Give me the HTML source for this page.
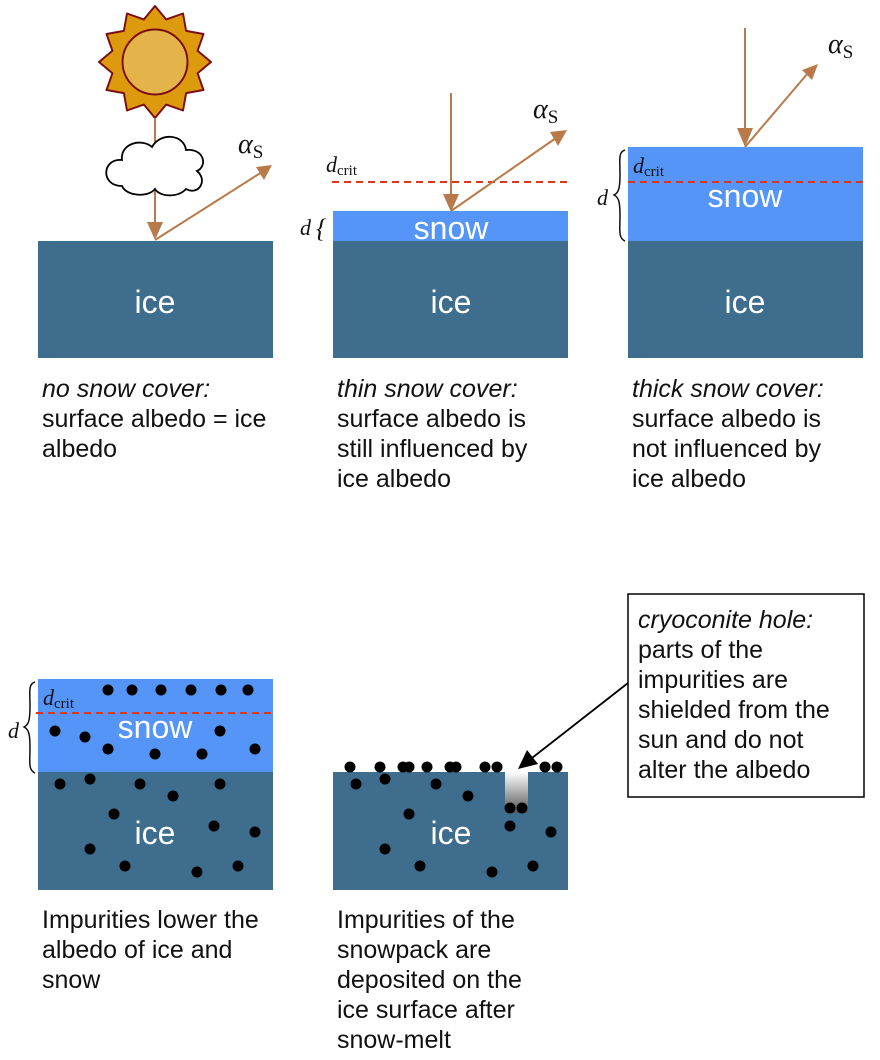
<!DOCTYPE html>
<html><head><meta charset="utf-8"><style>
html,body{margin:0;padding:0;background:#fff;}
svg{display:block;}
.t{font-family:"Liberation Sans",sans-serif;font-size:25px;fill:#111;}
.w{font-family:"Liberation Sans",sans-serif;font-size:32px;fill:#fff;text-anchor:middle;}
.m{font-family:"Liberation Serif",serif;font-style:italic;fill:#111;}
</style></head><body>
<svg width="880" height="1060" viewBox="0 0 880 1060" xmlns="http://www.w3.org/2000/svg">
<defs>
<linearGradient id="hole" x1="0" y1="0" x2="0" y2="1"><stop offset="0" stop-color="#fff"/><stop offset="1" stop-color="#555"/></linearGradient>
</defs>

<g transform="translate(155,62) scale(56)">
<polygon fill="#dc9a0c" stroke="#7a0e14" stroke-width="0.035" stroke-linejoin="round"
points="1,0 0.76,0.2 0.866,0.5 0.556,0.556 0.5,0.866 0.2,0.76 0,1 -0.2,0.76 -0.5,0.866 -0.556,0.556 -0.866,0.5 -0.76,0.2 -1,0 -0.76,-0.2 -0.866,-0.5 -0.556,-0.556 -0.5,-0.866 -0.2,-0.76 0,-1 0.2,-0.76 0.5,-0.866 0.556,-0.556 0.866,-0.5 0.76,-0.2"/>
<circle cx="0" cy="0" r="0.58" fill="#e4b34a" stroke="#7a0e14" stroke-width="0.035"/>
</g>
<line x1="155" y1="118" x2="155" y2="222" stroke="#b87a4a" stroke-width="2"/>
<path d="M122,186 C100,186 102,158 122,160 C120,143 142,138 152,147 C160,132 184,134 186,150 C204,148 208,166 197,171 C208,180 199,196 186,189 C178,198 160,197 155,189 C148,198 126,196 122,186 Z" fill="#fff" stroke="#000" stroke-width="1.8"/>
<polygon points="147,222 163,222 155,240" fill="#b87a4a"/>
<line x1="155" y1="240" x2="262" y2="172" stroke="#b87a4a" stroke-width="2"/>
<polygon points="272,165 256,167 264,180" fill="#b87a4a"/>
<text class="m" x="238" y="153" font-size="28">α<tspan font-style="normal" font-size="19" dy="5">S</tspan></text>
<rect x="38" y="241" width="235" height="117" fill="#3e6d8e"/>
<text class="w" x="155" y="313">ice</text>

<rect x="333" y="211" width="235" height="30" fill="#5595f7"/>
<rect x="333" y="241" width="235" height="117" fill="#3e6d8e"/>
<text class="w" x="451" y="239">snow</text>
<text class="w" x="451" y="313">ice</text>
<line x1="332" y1="182" x2="570" y2="182" stroke="#d9381e" stroke-width="2" stroke-dasharray="7,5"/>
<text class="m" x="326" y="172" font-size="22">d<tspan font-style="normal" font-size="15" dy="3">crit</tspan></text>
<text class="m" x="300" y="235" font-size="22">d</text>
<text class="m" x="316" y="237" font-size="26" font-style="normal">{</text>
<line x1="451" y1="93" x2="451" y2="194" stroke="#b87a4a" stroke-width="2"/>
<polygon points="443,194 459,194 451,212" fill="#b87a4a"/>
<line x1="451" y1="211" x2="556" y2="138" stroke="#b87a4a" stroke-width="2"/>
<polygon points="567,130 550,132 558,146" fill="#b87a4a"/>
<text class="m" x="533" y="118" font-size="28">α<tspan font-style="normal" font-size="19" dy="5">S</tspan></text>

<rect x="628" y="147" width="235" height="94" fill="#5595f7"/>
<rect x="628" y="241" width="235" height="117" fill="#3e6d8e"/>
<text class="w" x="745" y="207">snow</text>
<text class="w" x="745" y="313">ice</text>
<line x1="628" y1="182" x2="865" y2="182" stroke="#d9381e" stroke-width="2" stroke-dasharray="7,5"/>
<text class="m" x="633" y="173" font-size="22">d<tspan font-style="normal" font-size="15" dy="3">crit</tspan></text>
<text class="m" x="597" y="205" font-size="22">d</text>
<path d="M625,150 C618,152 620,160 620,175 C620,190 618,193 614,195 C618,197 620,200 620,215 C620,230 618,238 625,241" fill="none" stroke="#111" stroke-width="1.5"/>
<line x1="745" y1="28" x2="745" y2="128" stroke="#b87a4a" stroke-width="2"/>
<polygon points="737,128 753,128 745,147" fill="#b87a4a"/>
<line x1="745" y1="147" x2="808" y2="73" stroke="#b87a4a" stroke-width="2"/>
<polygon points="818,64 802,70 812,80" fill="#b87a4a"/>
<text class="m" x="828" y="53" font-size="28">α<tspan font-style="normal" font-size="19" dy="5">S</tspan></text>

<text class="t" x="42" y="397"><tspan font-style="italic">no snow cover:</tspan><tspan x="42" dy="30">surface albedo = ice</tspan><tspan x="42" dy="30">albedo</tspan></text>
<text class="t" x="337" y="397"><tspan font-style="italic">thin snow cover:</tspan><tspan x="337" dy="30">surface albedo is</tspan><tspan x="337" dy="30">still influenced by</tspan><tspan x="337" dy="30">ice albedo</tspan></text>
<text class="t" x="632" y="397"><tspan font-style="italic">thick snow cover:</tspan><tspan x="632" dy="30">surface albedo is</tspan><tspan x="632" dy="30">not influenced by</tspan><tspan x="632" dy="30">ice albedo</tspan></text>

<rect x="38" y="679" width="235" height="93" fill="#5595f7"/>
<rect x="38" y="772" width="235" height="118" fill="#3e6d8e"/>
<text class="w" x="155" y="738">snow</text>
<text class="w" x="155" y="844">ice</text>
<line x1="36" y1="713" x2="274" y2="713" stroke="#d9381e" stroke-width="2" stroke-dasharray="7,5"/>
<text class="m" x="43" y="705" font-size="22">d<tspan font-style="normal" font-size="15" dy="3">crit</tspan></text>
<text class="m" x="8" y="738" font-size="22">d</text>
<path d="M35,682 C28,684 30,692 30,707 C30,722 28,725 24,727 C28,729 30,732 30,747 C30,762 28,770 35,773" fill="none" stroke="#111" stroke-width="1.5"/>
<g fill="#000">
<circle cx="108" cy="690" r="5.5"/><circle cx="132" cy="690" r="5.5"/><circle cx="161" cy="690" r="5.5"/><circle cx="191" cy="690" r="5.5"/><circle cx="221" cy="690" r="5.5"/><circle cx="248" cy="690" r="5.5"/>
<circle cx="55" cy="731" r="5.5"/><circle cx="85" cy="737" r="5.5"/><circle cx="108" cy="749" r="5.5"/><circle cx="155" cy="754" r="5.5"/><circle cx="202" cy="754" r="5.5"/><circle cx="220" cy="731" r="5.5"/><circle cx="255" cy="749" r="5.5"/>
<circle cx="60" cy="784" r="5.5"/><circle cx="90" cy="779" r="5.5"/><circle cx="140" cy="784" r="5.5"/><circle cx="173" cy="796" r="5.5"/><circle cx="114" cy="814" r="5.5"/><circle cx="214" cy="826" r="5.5"/><circle cx="255" cy="832" r="5.5"/><circle cx="90" cy="849" r="5.5"/><circle cx="125" cy="866" r="5.5"/><circle cx="197" cy="872" r="5.5"/><circle cx="238" cy="866" r="5.5"/><circle cx="220" cy="784" r="5.5"/>
</g>

<rect x="333" y="772" width="235" height="118" fill="#3e6d8e"/>
<rect x="505" y="772" width="23" height="41" fill="url(#hole)"/>
<text class="w" x="451" y="844">ice</text>
<g fill="#000">
<circle cx="350" cy="767" r="5.5"/><circle cx="380" cy="767" r="5.5"/><circle cx="403" cy="767" r="5.5"/><circle cx="409" cy="767" r="5.5"/><circle cx="427" cy="767" r="5.5"/><circle cx="450" cy="767" r="5.5"/><circle cx="456" cy="767" r="5.5"/><circle cx="485" cy="767" r="5.5"/><circle cx="497" cy="767" r="5.5"/><circle cx="545" cy="767" r="5.5"/><circle cx="557" cy="767" r="5.5"/>
<circle cx="356" cy="784" r="5.5"/><circle cx="385" cy="779" r="5.5"/><circle cx="436" cy="784" r="5.5"/><circle cx="468" cy="796" r="5.5"/><circle cx="409" cy="814" r="5.5"/><circle cx="385" cy="849" r="5.5"/><circle cx="420" cy="866" r="5.5"/><circle cx="492" cy="872" r="5.5"/><circle cx="533" cy="866" r="5.5"/><circle cx="510" cy="826" r="5.5"/><circle cx="551" cy="832" r="5.5"/><circle cx="510" cy="808" r="5.5"/><circle cx="522" cy="808" r="5.5"/>
</g>
<line x1="628" y1="683" x2="532" y2="758" stroke="#000" stroke-width="1.8"/>
<polygon points="518,769 527,750 538,764" fill="#000"/>

<rect x="628" y="594" width="236" height="203" fill="#fff" stroke="#000" stroke-width="1.5"/>
<text class="t" x="638" y="628"><tspan font-style="italic">cryoconite hole:</tspan><tspan x="638" dy="30">parts of the</tspan><tspan x="638" dy="30">impurities are</tspan><tspan x="638" dy="30">shielded from the</tspan><tspan x="638" dy="30">sun and do not</tspan><tspan x="638" dy="30">alter the albedo</tspan></text>

<text class="t" x="42" y="928">Impurities lower the<tspan x="42" dy="30">albedo of ice and</tspan><tspan x="42" dy="30">snow</tspan></text>
<text class="t" x="337" y="928">Impurities of the<tspan x="337" dy="30">snowpack are</tspan><tspan x="337" dy="30">deposited on the</tspan><tspan x="337" dy="30">ice surface after</tspan><tspan x="337" dy="30">snow-melt</tspan></text>
</svg>
</body></html>
